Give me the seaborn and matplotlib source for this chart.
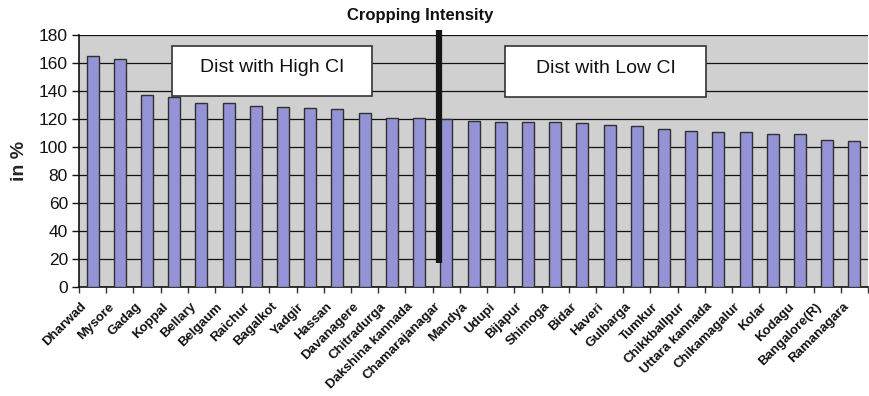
import matplotlib
matplotlib.use("Agg")
import matplotlib.pyplot as plt
import matplotlib.transforms as mtransforms
import seaborn as sns
import pandas as pd
import numpy as np

districts = ["Dharwad", "Mysore", "Gadag", "Koppal", "Bellary", "Belgaum", "Raichur",
             "Bagalkot", "Yadgir", "Hassan", "Davanagere", "Chitradurga",
             "Dakshina kannada", "Chamarajanagar", "Mandya", "Udupi", "Bijapur",
             "Shimoga", "Bidar", "Haveri", "Gulbarga", "Tumkur", "Chikkballpur",
             "Uttara kannada", "Chikamagalur", "Kolar", "Kodagu", "Bangalore(R)",
             "Ramanagara"]
intensity = [165, 162.5, 137, 135.5, 131, 131, 129.5, 128.5, 128, 127, 124.5, 120.5,
             120.5, 119.5, 118.6, 118, 118, 118, 117, 115.5, 114.6, 113, 111.2,
             110.3, 110.3, 108.8, 108.8, 104.6, 103.8]
y_ticks = [0, 20, 40, 60, 80, 100, 120, 140, 160, 180]

df = pd.DataFrame({"District": districts, "CI": intensity})

sns.set_theme(style="white")
plt.rcParams["font.family"] = ["Liberation Sans", "DejaVu Sans"]

fig = plt.figure(figsize=(8.69, 3.96), dpi=100)
ax = fig.add_axes([0.0909, 0.276, 0.908, 0.636])
ax.set_facecolor("#D0D0D0")

sns.barplot(data=df, x="District", y="CI", ax=ax, color="#9393D6",
            saturation=1, width=0.44, edgecolor="#303030", linewidth=1.0, zorder=3)

ax.set_ylim(0, 180)
ax.set_xlim(-0.5, len(districts) - 0.5)
ax.set_yticks(y_ticks)
ax.yaxis.grid(True, color="#111111", linewidth=0.9, zorder=0)
ax.set_axisbelow(True)

# category labels at centres, tick marks at the category boundaries
ax.set_xticks(np.arange(len(districts)))
ax.set_xticklabels(districts, rotation=45, ha="right", rotation_mode="anchor",
                   fontsize=9.5, fontweight="bold", color="#111111")
ax.tick_params(axis="x", which="major", length=0, pad=10)
shift = mtransforms.ScaledTranslation(-12 / 100, 0, fig.dpi_scale_trans)
for lbl in ax.get_xticklabels():
    lbl.set_transform(lbl.get_transform() + shift)
ax.set_xticks(np.arange(len(districts) + 1) - 0.5, minor=True)
ax.tick_params(axis="x", which="minor", length=4, width=1, color="#333333",
               bottom=True)
ax.tick_params(axis="y", length=5, width=1, color="#111111", left=True,
               labelsize=12.5, labelcolor="#111111", pad=3)

for side in ["top", "right"]:
    ax.spines[side].set_visible(False)
for side in ["left", "bottom"]:
    ax.spines[side].set_color("#111111")
    ax.spines[side].set_linewidth(1.2)

ax.set_xlabel("")
ax.set_ylabel("in %", fontsize=14, fontweight="bold", labelpad=8)
fig.text(0.483, 0.962, "Cropping Intensity", ha="center", va="center",
         fontsize=12, fontweight="bold", color="#111111")

# separator between high and low cropping intensity districts
ax.plot([0.456, 0.456], [0.095, 1.02], transform=ax.transAxes, color="#151515",
        linewidth=4.5, solid_capstyle="butt", clip_on=False, zorder=5)

ax.add_patch(plt.Rectangle((0.118, 0.757), 0.253, 0.198, transform=ax.transAxes,
                           facecolor="white", edgecolor="#333333", linewidth=1.2,
                           zorder=6))
ax.text(0.2445, 0.872, "Dist with High CI", transform=ax.transAxes, ha="center",
        va="center", fontsize=14, color="#111111", zorder=7)
ax.add_patch(plt.Rectangle((0.540, 0.753), 0.255, 0.202, transform=ax.transAxes,
                           facecolor="white", edgecolor="#333333", linewidth=1.2,
                           zorder=6))
ax.text(0.6675, 0.868, "Dist with Low CI", transform=ax.transAxes, ha="center",
        va="center", fontsize=14, color="#111111", zorder=7)

fig.savefig("out.png", dpi=100)
